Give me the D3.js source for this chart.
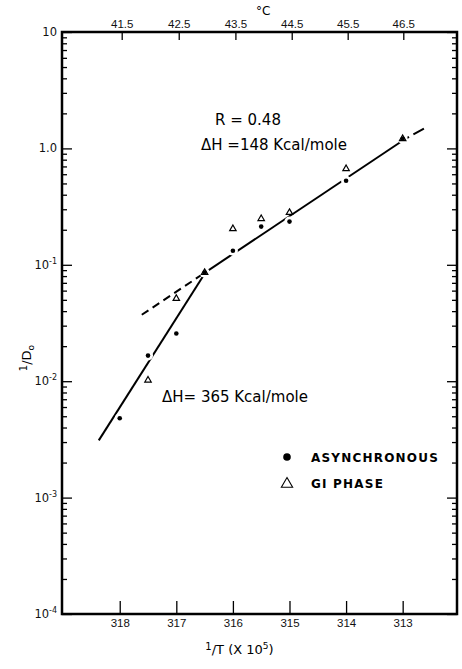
<!DOCTYPE html>
<html>
<head>
<meta charset="utf-8">
<script src="https://cdn.jsdelivr.net/npm/d3@7"></script>
<style>
  body { margin: 0; background: #fff; }
  svg { display: block; font-family: "DejaVu Sans", sans-serif; }
</style>
</head>
<body>
<div id="chart"></div>
<script>
// 1/T (x 10^5) and 1/D0 readings
const asyncX = [318, 317.5, 317, 316.5, 316, 315.5, 315, 314, 313];
const asyncY = [0.0048, 0.0166, 0.0257, 0.0857, 0.132, 0.213, 0.235, 0.527, 1.21];
const giX = [317.5, 317, 316.5, 316, 315.5, 315, 314, 313];
const giY = [0.0102, 0.0513, 0.0857, 0.204, 0.249, 0.281, 0.668, 1.21];

// fitted lines (end points)
const steepX = [318.37, 316.48], steepY = [0.0031, 0.0866];
const shallowX = [316.48, 312.95], shallowY = [0.0866, 1.21];
const lowDashX = [317.61, 316.48], lowDashY = [0.0372, 0.0866];
const highDashX = [312.95, 312.6], highDashY = [1.21, 1.5];

// axis ticks
const xTicks = [318, 317, 316, 315, 314, 313];
const celsiusTicks = [41.5, 42.5, 43.5, 44.5, 45.5, 46.5];
const yMajor = [10, 1, 0.1, 0.01, 0.001, 0.0001];
const yLabelBase = ["10", "1.0", "10", "10", "10", "10"];
const yLabelExp = ["", "", "-1", "-2", "-3", "-4"];

var margin = {top: 32, right: 5, bottom: 55, left: 62},
    width = 462 - margin.left - margin.right,
    height = 669 - margin.top - margin.bottom;

var svg = d3.select("#chart").append("svg")
  .attr("width", 462)
  .attr("height", 669)
  .append("g")
  .attr("transform", "translate(" + margin.left + "," + margin.top + ")");

var x = d3.scaleLinear().domain([319.02, 312.04]).range([0, width]);
var y = d3.scaleLog().domain([1e-4, 10]).range([height, 0]);

function styleAxis(g) {
  g.select(".domain").remove();
  g.selectAll(".tick line").attr("stroke", "#000").attr("stroke-width", 1.3);
  g.selectAll("text").attr("fill", "#111").style("font-size", "11.5px");
}

// bottom axis
svg.append("g")
  .attr("transform", "translate(0," + height + ")")
  .call(d3.axisBottom(x).tickValues(xTicks).tickFormat(d3.format("d"))
    .tickSizeInner(-13).tickSizeOuter(0).tickPadding(5))
  .call(styleAxis);

// top axis in degrees C
svg.append("g")
  .call(d3.axisTop(x)
    .tickValues(celsiusTicks.map(function(c) { return 1e5 / (c + 273); }))
    .tickFormat(function(d, i) { return celsiusTicks[i]; })
    .tickSizeInner(-8).tickSizeOuter(0).tickPadding(4))
  .call(styleAxis);

svg.append("text")
  .attr("x", 194).attr("y", -17)
  .style("font-size", "12px")
  .text("°C");

// left and right log axes
var minor = y.ticks().filter(function(d) { return yMajor.indexOf(d) < 0; });
svg.append("g").call(d3.axisLeft(y).tickValues(minor).tickFormat("").tickSizeInner(-5).tickSizeOuter(0)).call(styleAxis);
svg.append("g").call(d3.axisLeft(y).tickValues(yMajor).tickFormat("").tickSizeInner(-10).tickSizeOuter(0)).call(styleAxis);
svg.append("g").attr("transform", "translate(" + width + ",0)")
  .call(d3.axisRight(y).tickValues(minor).tickFormat("").tickSizeInner(-5).tickSizeOuter(0)).call(styleAxis);
svg.append("g").attr("transform", "translate(" + width + ",0)")
  .call(d3.axisRight(y).tickValues(yMajor).tickFormat("").tickSizeInner(-10).tickSizeOuter(0)).call(styleAxis);

var yl = svg.append("g").selectAll("text")
  .data(yMajor)
  .enter()
  .append("text")
  .attr("x", -5)
  .attr("y", function(d) { return y(d) + 4; })
  .attr("text-anchor", "end")
  .style("font-size", "11.5px")
  .attr("fill", "#111");
yl.append("tspan").text(function(d, i) { return yLabelBase[i]; });
yl.append("tspan")
  .attr("dy", -5)
  .style("font-size", "8px")
  .text(function(d, i) { return yLabelExp[i]; });

// frame
svg.append("rect")
  .attr("width", width).attr("height", height)
  .attr("fill", "none").attr("stroke", "#000").attr("stroke-width", 2.5);

// fitted lines
var line = d3.line()
  .x(function(d) { return x(d[0]); })
  .y(function(d) { return y(d[1]); });

function drawFit(xs, ys, dash) {
  svg.append("path")
    .datum(d3.zip(xs, ys))
    .attr("d", line)
    .attr("fill", "none")
    .attr("stroke", "#000")
    .attr("stroke-width", 2)
    .attr("stroke-dasharray", dash);
}
drawFit(steepX, steepY, null);
drawFit(shallowX, shallowY, null);
drawFit(lowDashX, lowDashY, "8,5");
drawFit(highDashX, highDashY, "4,5,12");

// white halos break the line round the points
var asyncData = d3.zip(asyncX, asyncY);
svg.selectAll("circle.halo")
  .data(asyncData)
  .enter()
  .append("circle")
  .attr("class", "halo")
  .attr("cx", function(d) { return x(d[0]); })
  .attr("cy", function(d) { return y(d[1]); })
  .attr("r", 5)
  .attr("fill", "#fff");

svg.selectAll("circle.dot")
  .data(asyncData)
  .enter()
  .append("circle")
  .attr("class", "dot")
  .attr("cx", function(d) { return x(d[0]); })
  .attr("cy", function(d) { return y(d[1]); })
  .attr("r", 2.3)
  .attr("fill", "#000");

var tri = d3.symbol().type(d3.symbolTriangle).size(18);
svg.selectAll("path.tri")
  .data(d3.zip(giX, giY))
  .enter()
  .append("path")
  .attr("class", "tri")
  .attr("d", tri)
  .attr("transform", function(d) { return "translate(" + x(d[0]) + "," + y(d[1]) + ")"; })
  .attr("fill", "none")
  .attr("stroke", "#000")
  .attr("stroke-width", 1.2);

// annotations
svg.append("text").attr("x", 153).attr("y", 93).style("font-size", "15px").text("R = 0.48");
svg.append("text").attr("x", 139).attr("y", 118).style("font-size", "15px").text("ΔH =148 Kcal/mole");
svg.append("text").attr("x", 100).attr("y", 370).style("font-size", "15px").text("ΔH= 365 Kcal/mole");

// legend
var legend = svg.append("g").attr("transform", "translate(225,425)");
legend.append("circle").attr("cx", 0).attr("cy", 0).attr("r", 3.8).attr("fill", "#000");
legend.append("path")
  .attr("d", d3.symbol().type(d3.symbolTriangle).size(55))
  .attr("transform", "translate(0,27)")
  .attr("fill", "none").attr("stroke", "#000").attr("stroke-width", 1.1);
legend.append("text").attr("x", 24).attr("y", 5)
  .style("font-size", "12px").style("font-weight", "bold").style("letter-spacing", "1.2px")
  .text("ASYNCHRONOUS");
legend.append("text").attr("x", 24).attr("y", 31)
  .style("font-size", "12px").style("font-weight", "bold").style("letter-spacing", "1.2px")
  .text("GI  PHASE");

// axis titles
var xt = svg.append("text")
  .attr("x", width / 2 - 20).attr("y", height + 40)
  .attr("text-anchor", "middle")
  .style("font-size", "13px");
xt.append("tspan").attr("dy", -4).style("font-size", "10px").text("1");
xt.append("tspan").attr("dy", 4).text("/T  (X 10");
xt.append("tspan").attr("dy", -5).style("font-size", "9px").text("5");
xt.append("tspan").attr("dy", 5).text(")");

var yt = svg.append("text")
  .attr("transform", "translate(-31," + (height / 2 + 35) + ") rotate(-90)")
  .attr("text-anchor", "middle")
  .style("font-size", "13px");
yt.append("tspan").attr("dy", -4).style("font-size", "10px").text("1");
yt.append("tspan").attr("dy", 4).text("/D");
yt.append("tspan").attr("dy", 3).style("font-size", "9px").text("o");
</script>
</body>
</html>
